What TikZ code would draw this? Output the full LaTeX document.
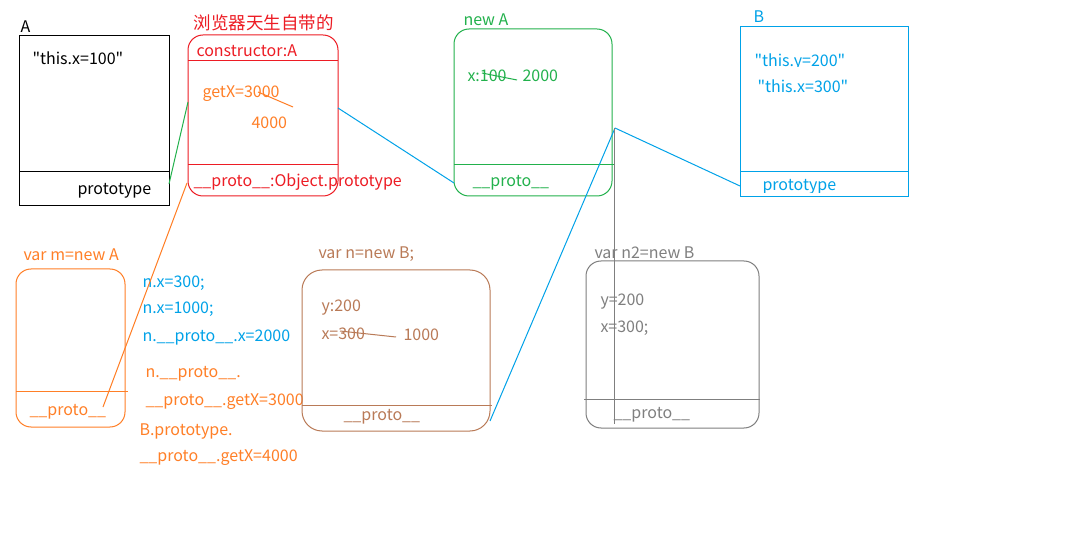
\documentclass[tikz,border=0pt]{standalone}
\usepackage{fontspec}
\setmainfont{Noto Sans CJK SC}[Ligatures=TeXOff]
\definecolor{pred}{HTML}{ED1C24}
\definecolor{porange}{HTML}{FF7F27}
\definecolor{pgreen}{HTML}{22B14C}
\definecolor{pblue}{HTML}{00A2E8}
\definecolor{pbrown}{HTML}{B97A57}
\definecolor{pgray}{HTML}{7F7F7F}
\begin{document}
\begin{tikzpicture}[x=1pt,y=-1pt,line width=1pt,
  txt/.style={inner sep=0pt, anchor=west, yshift=-1.5pt, font=\fontsize{16}{19}\selectfont},
  cjk/.style={inner sep=0pt, anchor=west, yshift=-1pt, font=\fontsize{17.5}{20}\selectfont}]
\useasboundingbox (0,0) rectangle (1080,540);
\fill[white] (0,0) rectangle (1080,540);

% Box A
\draw[black] (19,36) rectangle (169,206);
\draw[black] (19,172) -- (169,172);
\node[txt] (lA) at (20,25) {A};
\node[txt] (tA) at (32,57) {"this.x=100"};
\node[txt] (pA) at (77,189) {prototype};

% constructor box
\draw[pred, rounded corners=15pt] (188,35) rectangle (338,196);
\draw[pred] (188,61) -- (338,61);
\draw[pred] (188,165) -- (338,165);
\node[cjk, pred] (lC) at (193,22) {浏览器天生自带的};
\node[txt, pred] (cC) at (196,49) {constructor:A};
\node[txt, porange] (gC) at (202,92) {getX=3000};
\draw[porange] (258,92) -- (293,107);
\node[txt, porange] (fC) at (251,121) {4000};
\node[txt, pred] (pC) at (193,181) {\_\_proto\_\_:Object.prototype};

% new A box
\draw[pgreen, rounded corners=15pt] (454,29) rectangle (612,196);
\draw[pgreen] (454,165) -- (614,165);
\node[txt, pgreen] (lN) at (463,18) {new A};
\node[txt, pgreen] (xN) at (467,74) {x:100};
\draw[pgreen] (482,73) -- (517,80);
\node[txt, pgreen] (vN) at (522,74) {2000};
\node[txt, pgreen] (pN) at (472,181) {\_\_proto\_\_};

% B box
\draw[pblue] (740,27) rectangle (908,197);
\draw[pblue] (740,172) -- (908,172);
\node[txt, pblue] (lB) at (753,15) {B};
\begin{scope}
\clip (745,40) rectangle (905,67);
\node[txt, pblue] (yB) at (754,61) {"this.y=200"};
\end{scope}
\node[txt, pblue] (xB) at (757,85) {"this.x=300"};
\begin{scope}
\clip (745,174) rectangle (905,193);
\node[txt, pblue] (pB) at (762,185) {prototype};
\end{scope}

% m box
\draw[porange, rounded corners=15pt] (16,269) rectangle (125,427);
\draw[porange] (16,391) -- (128,391);
\node[txt, porange] (lM) at (23,253) {var m=new A};
\node[txt, porange] (pM) at (29,410) {\_\_proto\_\_};

% notes
\node[txt, pblue] (n1) at (142,282) {n.x=300;};
\node[txt, pblue] (n2) at (142,308) {n.x=1000;};
\node[txt, pblue] (n3) at (142,336) {n.\_\_proto\_\_.x=2000};
\node[txt, porange] (n4) at (145,372) {n.\_\_proto\_\_.};
\node[txt, porange] (n5) at (145,400) {\_\_proto\_\_.getX=3000};
\node[txt, porange] (n6) at (139,430) {B.prototype.};
\node[txt, porange] (n7) at (139,456) {\_\_proto\_\_.getX=4000};

% n box
\draw[pbrown, rounded corners=20pt] (302,270) rectangle (490,431);
\draw[pbrown] (302,405) -- (492,405);
\node[txt, pbrown] (lNB) at (318,253) {var n=new B;};
\node[txt, pbrown] (yNB) at (321,306) {y:200};
\node[txt, pbrown] (xNB) at (321,332) {x=300};
\draw[pbrown] (340,331) -- (396,337);
\node[txt, pbrown] (vNB) at (403,333) {1000};
\node[txt, pbrown] (pNB) at (343,415) {\_\_proto\_\_};

% n2 box
\draw[pgray, rounded corners=15pt] (586,261) rectangle (759,428);
\draw[pgray] (584,399) -- (760,399);
\node[txt, pgray] (lN2) at (594,251) {var n2=new B};
\node[txt, pgray] (yN2) at (600,300) {y=200};
\node[txt, pgray] (xN2) at (600,327) {x=300;};
\node[txt, pgray] (pN2) at (613,413) {\_\_proto\_\_};

% connectors
\coordinate (aProto) at (169,184);
\coordinate (cIn) at (188,102);
\coordinate (cProto) at (187,183);
\coordinate (mProto) at (103,407);
\coordinate (cOut) at (338,108);
\coordinate (gProto) at (454,183);
\coordinate (gHub) at (615,128);
\coordinate (bProto) at (740,186);
\coordinate (nProto) at (490,421);
\coordinate (gTop) at (614,128);
\coordinate (n2Proto) at (614,424);
\draw[pgreen] (aProto) -- (cIn);
\draw[porange] (cProto) -- (mProto);
\draw[pblue] (cOut) -- (gProto);
\draw[pblue] (gHub) -- (bProto);
\draw[pblue] (gHub) -- (nProto);
\draw[pgray] (gTop) -- (n2Proto);
\end{tikzpicture}
\end{document}
